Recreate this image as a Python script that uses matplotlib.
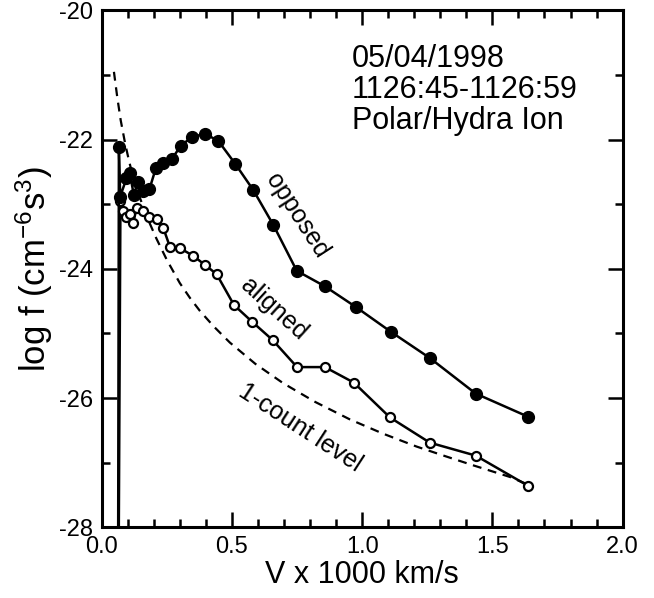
import matplotlib
matplotlib.use("Agg")
import matplotlib.pyplot as plt
from matplotlib.ticker import MultipleLocator

plt.rcParams['font.family'] = ['Liberation Sans', 'DejaVu Sans']
plt.rcParams['mathtext.default'] = 'regular'

# opposed (filled circles); first point lies below the axis floor
opp_v = [0.063, 0.066, 0.071, 0.095, 0.108, 0.123, 0.140, 0.160, 0.183, 0.208,
         0.234, 0.269, 0.303, 0.345, 0.397, 0.448, 0.512, 0.582, 0.659, 0.749,
         0.857, 0.976, 1.109, 1.260, 1.436, 1.638]
opp_f = [-28.6, -22.12, -22.88, -22.60, -22.52, -22.85, -22.65, -22.80, -22.77, -22.44,
         -22.36, -22.30, -22.10, -21.96, -21.91, -22.02, -22.37, -22.78, -23.32, -24.03,
         -24.27, -24.59, -24.97, -25.38, -25.93, -26.29]

# aligned (open circles)
ali_v = [0.065, 0.072, 0.083, 0.095, 0.108, 0.121, 0.134, 0.157, 0.183, 0.211,
         0.236, 0.262, 0.301, 0.352, 0.397, 0.441, 0.508, 0.578, 0.656, 0.750,
         0.857, 0.968, 1.107, 1.260, 1.436, 1.638]
ali_f = [-28.6, -22.95, -23.10, -23.20, -23.15, -23.29, -23.05, -23.10, -23.20, -23.23,
         -23.36, -23.66, -23.68, -23.80, -23.94, -24.08, -24.56, -24.82, -25.10, -25.52,
         -25.52, -25.76, -26.30, -26.69, -26.89, -27.36]

# 1-count level (dashed)
cnt_v = [0.047, 0.060, 0.073, 0.090, 0.105, 0.120, 0.145, 0.173, 0.210, 0.250,
         0.300, 0.339, 0.377, 0.430, 0.492, 0.590, 0.697, 0.820, 0.953, 1.080,
         1.209, 1.320, 1.426, 1.567, 1.638]
cnt_f = [-20.95, -21.35, -21.70, -22.06, -22.33, -22.57, -22.88, -23.19, -23.53, -23.86,
         -24.22, -24.45, -24.65, -24.89, -25.14, -25.47, -25.77, -26.06, -26.33, -26.55,
         -26.75, -26.90, -27.04, -27.22, -27.34]

header = ["05/04/1998", "1126:45-1126:59", "Polar/Hydra Ion"]

fig = plt.figure(figsize=(6.54, 5.98), dpi=100)
ax = fig.add_axes([0.1555, 0.1182, 0.7965, 0.8643])

ax.plot(cnt_v, cnt_f, color='black', lw=1.6, ls=(0, (4, 3)))
ax.plot(ali_v, ali_f, color='black', lw=1.8, marker='o', ms=6.5,
        mfc='white', mec='black', mew=1.6)
ax.plot(opp_v, opp_f, color='black', lw=1.8, marker='o', ms=8.5,
        mfc='black', mec='black')

ax.set_xlim(0, 2)
ax.set_ylim(-28, -20)
ax.xaxis.set_major_locator(MultipleLocator(0.5))
ax.xaxis.set_minor_locator(MultipleLocator(0.1))
ax.yaxis.set_major_locator(MultipleLocator(2))
ax.yaxis.set_minor_locator(MultipleLocator(1))
ax.xaxis.set_major_formatter(matplotlib.ticker.FormatStrFormatter('%.1f'))
ax.yaxis.set_major_formatter(matplotlib.ticker.FuncFormatter(lambda v, p: '%d' % v))

for s in ax.spines.values():
    s.set_linewidth(2.2)
ax.tick_params(which='both', direction='in', top=True, right=True, width=1.8,
               labelsize=17, pad=6)
ax.tick_params(which='major', length=11)
ax.tick_params(which='minor', length=6)

ax.set_xlabel('V x 1000 km/s', fontsize=22, labelpad=2)
ax.set_ylabel(r'log f (cm$^{-6}$s$^{3}$)', fontsize=25, labelpad=3)

for i, line in enumerate(header):
    ax.text(0.961, -20.875 - 0.48 * i, line, fontsize=22, ha='left', va='baseline')

ax.text(0.750, -23.18, 'opposed', fontsize=18, rotation=-57,
        ha='center', va='center', rotation_mode='anchor')
ax.text(0.662, -24.62, 'aligned', fontsize=18, rotation=-42,
        ha='center', va='center', rotation_mode='anchor')
ax.text(0.762, -26.46, '1-count level', fontsize=18, rotation=-33,
        ha='center', va='center', rotation_mode='anchor')

fig.savefig('out.png', dpi=100)
